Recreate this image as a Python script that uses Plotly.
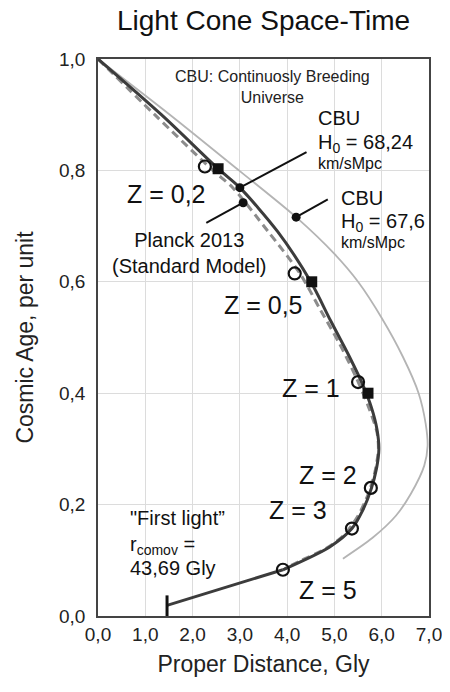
import plotly.graph_objects as go

# ---- data ----
x_ticks = [0, 1, 2, 3, 4, 5, 6, 7]
x_tick_text = ["0,0", "1,0", "2,0", "3,0", "4,0", "5,0", "6,0", "7,0"]
y_ticks = [0.0, 0.2, 0.4, 0.6, 0.8, 1.0]
y_tick_text = ["0,0", "0,2", "0,4", "0,6", "0,8", "1,0"]

# CBU H0 = 68,24 (dark solid)
cbu68_x = [0.0, 1.34, 2.54, 3.0, 3.8, 4.5, 4.92, 5.32, 5.6, 5.78, 5.9, 5.94, 5.89, 5.78, 5.6, 5.37, 4.9, 3.91]
cbu68_y = [1.0, 0.9, 0.803, 0.769, 0.69, 0.60, 0.53, 0.465, 0.415, 0.375, 0.335, 0.30, 0.265, 0.229, 0.19, 0.157, 0.124, 0.083]
# first-light tail (straight)
tail_x = [3.91, 1.46]
tail_y = [0.083, 0.019]
first_light_x = [1.46, 1.46]
first_light_y = [0.0, 0.037]

# Planck 2013 (dashed)
planck_x = [0.0, 1.2, 2.43, 2.85, 3.6, 4.27, 4.7, 5.1, 5.45, 5.7, 5.9, 5.93, 5.86, 5.72, 5.5, 5.2, 4.8, 4.3, 3.95]
planck_y = [1.0, 0.9, 0.8, 0.769, 0.69, 0.615, 0.55, 0.49, 0.43, 0.38, 0.33, 0.30, 0.26, 0.22, 0.18, 0.145, 0.12, 0.10, 0.085]

# CBU H0 = 67,6 (light grey)
cbu67_x = [0.0, 1.52, 2.98, 4.19, 5.0, 5.5, 6.0, 6.45, 6.78, 6.93, 6.97, 6.9, 6.62, 6.3, 5.8, 5.18]
cbu67_y = [1.0, 0.9, 0.8, 0.716, 0.65, 0.60, 0.535, 0.465, 0.40, 0.345, 0.305, 0.27, 0.22, 0.18, 0.14, 0.103]

# redshift markers
circ_x = [2.26, 4.16, 5.50, 5.77, 5.37, 3.91]
circ_y = [0.807, 0.615, 0.42, 0.23, 0.157, 0.083]
sq_x = [2.54, 4.52, 5.71]
sq_y = [0.803, 0.60, 0.40]

# pointer lines: [dot, text end]
ptr68_x = [3.0, 4.41]
ptr68_y = [0.769, 0.833]
ptr67_x = [4.19, 4.86]
ptr67_y = [0.716, 0.748]
ptrpl_x = [3.07, 2.29]
ptrpl_y = [0.742, 0.706]

z_labels = ["Z = 0,2", "Z = 0,5", "Z = 1", "Z = 2", "Z = 3", "Z = 5"]
z_lab_x = [1.455, 3.505, 4.51, 4.86, 4.235, 4.86]
z_lab_y = [0.757, 0.558, 0.409, 0.254, 0.19, 0.046]

FONT = "Liberation Sans, Arial, Helvetica, sans-serif"
DARK = "#3c3c3c"

fig = go.Figure()
fig.add_trace(go.Scatter(x=cbu67_x, y=cbu67_y, mode="lines", line=dict(color="#b4b4b4", width=1.8, shape="spline", smoothing=0.8)))
fig.add_trace(go.Scatter(x=planck_x, y=planck_y, mode="lines", line=dict(color="#8c8c8c", width=3, dash="8px,5px", shape="spline", smoothing=0.8)))
fig.add_trace(go.Scatter(x=cbu68_x, y=cbu68_y, mode="lines", line=dict(color=DARK, width=3, shape="spline", smoothing=0.8)))
fig.add_trace(go.Scatter(x=tail_x, y=tail_y, mode="lines", line=dict(color=DARK, width=3)))
fig.add_trace(go.Scatter(x=first_light_x, y=first_light_y, mode="lines", line=dict(color="#111111", width=3)))
for px, py in [(ptr68_x, ptr68_y), (ptr67_x, ptr67_y), (ptrpl_x, ptrpl_y)]:
    fig.add_trace(go.Scatter(x=px, y=py, mode="lines", line=dict(color="#111111", width=2)))
    fig.add_trace(go.Scatter(x=px[:1], y=py[:1], mode="markers", marker=dict(color="#111111", size=9)))
fig.add_trace(go.Scatter(x=sq_x, y=sq_y, mode="markers", marker=dict(symbol="square", color="#111111", size=11)))
fig.add_trace(go.Scatter(x=circ_x, y=circ_y, mode="markers", marker=dict(symbol="circle-open", color="#111111", size=12, line=dict(width=2.2))))

ann = []
ann.append(dict(x=0.5, y=1 + (59 - 21) / 557, xref="paper", yref="paper", text="Light Cone Space-Time",
                showarrow=False, font=dict(size=28, color="#111111"), xanchor="center", yanchor="middle"))
for t, xx, yy in zip(z_labels, z_lab_x, z_lab_y):
    ann.append(dict(x=xx, y=yy, text=t, showarrow=False, font=dict(size=25, color="#111111"), xanchor="center", yanchor="middle"))
ann.append(dict(x=3.69, y=0.949, text="CBU: Continuosly Breeding<br>Universe", showarrow=False,
                font=dict(size=16, color="#222222"), align="center", xanchor="center", yanchor="middle"))
for t, xx, yy, s in [("CBU", 4.60, 0.8935, 20), ("H<sub>0</sub> = 68,24", 4.60, 0.849, 20), ("km/sMpc", 4.60, 0.8127, 16),
                     ("CBU", 5.09, 0.750, 20), ("H<sub>0</sub> = 67,6", 5.09, 0.707, 20), ("km/sMpc", 5.09, 0.671, 16),
                     ('"First light”', 0.628, 0.1754, 20), ("r<sub>comov</sub> =", 0.628, 0.1266, 20), ("43,69 Gly", 0.628, 0.0853, 20)]:
    ann.append(dict(x=xx, y=yy, text=t, showarrow=False, font=dict(size=s, color="#111111"), xanchor="left", yanchor="middle"))
ann.append(dict(x=1.94, y=0.652, text="Planck 2013<br>(Standard Model)", showarrow=False,
                font=dict(size=20, color="#111111"), align="center", xanchor="center", yanchor="middle"))

axis_common = dict(showgrid=True, gridcolor="#dcdcdc", gridwidth=1, zeroline=False, showline=True,
                   linecolor="#444444", linewidth=1.5, mirror=True, ticks="",
                   tickfont=dict(size=19, color="#222222"))
fig.update_layout(
    width=450, height=692, showlegend=False,
    margin=dict(l=90, r=29, t=51, b=84),
    paper_bgcolor="white", plot_bgcolor="white",
    font=dict(family=FONT, color="#111111"),
    xaxis=dict(range=[0, 7], tickvals=x_ticks, ticktext=x_tick_text,
               title=dict(text="Proper Distance, Gly", font=dict(size=23, color="#222222"), standoff=12), **axis_common),
    yaxis=dict(range=[0, 1.0], tickvals=y_ticks, ticktext=y_tick_text, ticklabelstandoff=7,
               title=dict(text="Cosmic Age, per unit", font=dict(size=23, color="#222222"), standoff=19), **axis_common),
    annotations=ann,
)
fig.write_html("out.html")
